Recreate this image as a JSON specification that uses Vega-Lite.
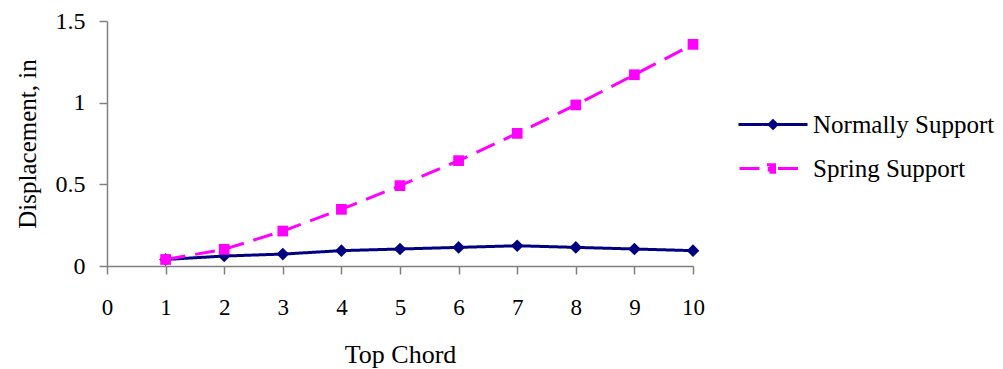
{
  "$schema": "https://vega.github.io/schema/vega-lite/v6.json",
  "width": 586,
  "height": 245,
  "autosize": "none",
  "padding": {"left": 107, "top": 21, "right": 310, "bottom": 103},
  "background": "white",
  "config": {"view": {"stroke": null}, "font": "Liberation Serif"},
  "data": {"values": [
    {"chord": 1, "series": "Normally Support", "disp": 0.040},
    {"chord": 2, "series": "Normally Support", "disp": 0.061},
    {"chord": 3, "series": "Normally Support", "disp": 0.073},
    {"chord": 4, "series": "Normally Support", "disp": 0.094},
    {"chord": 5, "series": "Normally Support", "disp": 0.104},
    {"chord": 6, "series": "Normally Support", "disp": 0.114},
    {"chord": 7, "series": "Normally Support", "disp": 0.124},
    {"chord": 8, "series": "Normally Support", "disp": 0.114},
    {"chord": 9, "series": "Normally Support", "disp": 0.104},
    {"chord": 10, "series": "Normally Support", "disp": 0.094},
    {"chord": 1, "series": "Spring Support", "disp": 0.040},
    {"chord": 2, "series": "Spring Support", "disp": 0.102},
    {"chord": 3, "series": "Spring Support", "disp": 0.214},
    {"chord": 4, "series": "Spring Support", "disp": 0.347},
    {"chord": 5, "series": "Spring Support", "disp": 0.492},
    {"chord": 6, "series": "Spring Support", "disp": 0.645},
    {"chord": 7, "series": "Spring Support", "disp": 0.812},
    {"chord": 8, "series": "Spring Support", "disp": 0.986},
    {"chord": 9, "series": "Spring Support", "disp": 1.171},
    {"chord": 10, "series": "Spring Support", "disp": 1.357}
  ]},
  "encoding": {
    "x": {"field": "chord", "type": "quantitative",
      "scale": {"domain": [0, 10], "nice": false},
      "axis": {"values": [0,1,2,3,4,5,6,7,8,9,10], "grid": false, "title": "Top Chord",
        "labelFont": "Liberation Serif", "labelFontSize": 23, "labelColor": "black", "labelFlush": false,
        "labelPadding": 22, "tickSize": 8, "tickColor": "#808080", "domainColor": "#808080", "domainWidth": 1.5, "tickWidth": 1.5,
        "titleFont": "Liberation Serif", "titleFontSize": 26, "titleFontWeight": "normal", "titleColor": "black", "titlePadding": 22}},
    "y": {"field": "disp", "type": "quantitative",
      "scale": {"domain": [0, 1.5], "nice": false},
      "axis": {"values": [0, 0.5, 1, 1.5], "format": ".1~f", "grid": false, "title": "Displacement, in",
        "labelFont": "Liberation Serif", "labelFontSize": 24, "labelColor": "black", "labelFlush": false,
        "labelPadding": 14, "tickSize": 8, "tickColor": "#808080", "domainColor": "#808080", "domainWidth": 1.5, "tickWidth": 1.5,
        "titleFont": "Liberation Serif", "titleFontSize": 25, "titleFontWeight": "normal", "titleColor": "black", "titlePadding": 15}}
  },
  "layer": [
    {"mark": {"type": "line", "strokeWidth": 3},
     "encoding": {
       "color": {"field": "series", "type": "nominal",
         "scale": {"domain": ["Normally Support", "Spring Support"], "range": ["#000080", "#FF00FF"]},
         "legend": {"title": null, "orient": "none", "legendX": 653.5, "legendY": 91,
           "labelFont": "Liberation Serif", "labelFontSize": 25, "labelColor": "black", "labelOffset": 27.5, "labelLimit": 300,
           "symbolSize": 100, "rowPadding": 18, "symbolStrokeWidth": 3,
           "symbolType": {"expr": "datum.value === 'Normally Support' ? 'M-6.9,0H6.9M0,-0.75L0.75,0L0,0.75L-0.75,0ZM0,-0.3L0.3,0L0,0.3L-0.3,0ZM-0.1,0H0.1' : 'M-6.7,0H-2.1M-1.2,-0.75H0.3V0.75H-1.2ZM-0.75,-0.3H-0.15V0.3H-0.75ZM1.0,0H5.4'"}}},
       "strokeDash": {"field": "series", "type": "nominal",
         "scale": {"domain": ["Normally Support", "Spring Support"], "range": [[1, 0], [20, 10]]}, "legend": null}}},
    {"transform": [{"filter": "datum.series === 'Normally Support'"}],
     "mark": {"type": "point", "filled": true, "opacity": 1, "shape": "diamond", "size": 160, "color": "#000080"}},
    {"transform": [{"filter": "datum.series === 'Spring Support'"}],
     "mark": {"type": "point", "filled": true, "opacity": 1, "shape": "square", "size": 115, "color": "#FF00FF"}}
  ]
}
